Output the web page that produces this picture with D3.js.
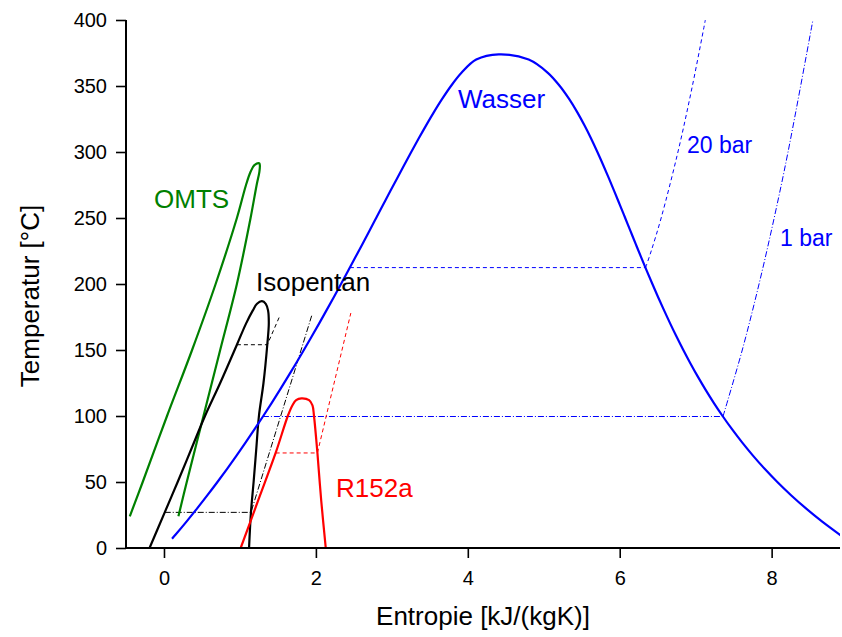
<!DOCTYPE html>
<html>
<head>
<meta charset="utf-8">
<script src="https://cdn.jsdelivr.net/npm/d3@7"></script>
<style>
  body { margin: 0; background: #fff; }
  svg { font-family: Arial, "Liberation Sans", sans-serif; }
</style>
</head>
<body>
<div class="main-container"></div>
<script>
// Wasser: Sättigungslinie (T in °C, s in kJ/(kgK))
const wasserT  = [7, 10, 20, 30, 40, 50, 60, 70, 80, 90, 100, 110, 120, 130, 140, 150, 160, 170, 180, 190, 200,
                  210, 220, 230, 240, 250, 260, 270, 280, 290, 300, 310, 320, 330, 340, 350, 360, 370, 373.95];
const wasserSL = [0.1060, 0.1511, 0.2965, 0.4368, 0.5724, 0.7038, 0.8313, 0.9551, 1.0756, 1.1929, 1.3072,
                  1.4188, 1.5279, 1.6346, 1.7392, 1.8418, 1.9426, 2.0417, 2.1392, 2.2355, 2.3305, 2.4245, 2.5177,
                  2.6101, 2.7020, 2.7935, 2.8849, 2.9765, 3.0685, 3.1612, 3.2552, 3.3510, 3.4494, 3.5518, 3.6601,
                  3.7784, 3.9167, 4.1112, 4.4070];
const wasserSV = [8.9697, 8.8998, 8.6660, 8.4520, 8.2555, 8.0748, 7.9081, 7.7540, 7.6111, 7.4781, 7.3541,
                  7.2381, 7.1291, 7.0264, 6.9293, 6.8371, 6.7491, 6.6650, 6.5840, 6.5059, 6.4302, 6.3563, 6.2840,
                  6.2128, 6.1423, 6.0721, 6.0016, 5.9304, 5.8579, 5.7834, 5.7059, 5.6244, 5.5372, 5.4422, 5.3356,
                  5.2110, 5.0536, 4.8012, 4.4070];
// Wasser Isobaren
const bar20T = [212.42, 212.42, 225, 250, 300, 350, 400];
const bar20S = [2.4474, 6.3409, 6.4147, 6.5453, 6.7664, 6.9563, 7.1271];
const bar1T  = [99.61, 99.61, 150, 200, 250, 300, 400];
const bar1S  = [1.3026, 7.3594, 7.6134, 7.8343, 8.0333, 8.2158, 8.5435];

// Isopentan
const isoT  = [0, 27, 50, 75, 100, 125, 154, 170, 180, 185, 187];
const isoSL = [-0.19, 0.01, 0.18, 0.36, 0.54, 0.74, 0.96, 1.08, 1.17, 1.225, 1.29];
const isoSV = [1.12, 1.145, 1.18, 1.215, 1.25, 1.31, 1.36, 1.38, 1.37, 1.34, 1.29];
const isoHdT = [154, 154, 176.5];
const isoHdS = [0.96, 1.36, 1.53];
const isoNdT = [27, 27, 177];
const isoNdS = [0.01, 1.145, 1.95];

// R152a
const r152T  = [0, 36, 72, 100, 108, 112, 113.3];
const r152SL = [1.01, 1.24, 1.47, 1.63, 1.69, 1.74, 1.81];
const r152SV = [2.13, 2.07, 2.02, 1.975, 1.955, 1.91, 1.81];
const r152HdT = [72, 72, 178];
const r152HdS = [1.47, 2.02, 2.46];

// OMTS
const omtsT  = [24, 50, 100, 150, 200, 250, 275, 285, 290, 291.4];
const omtsSL = [-0.45, -0.28, 0.04, 0.37, 0.68, 0.96, 1.08, 1.14, 1.19, 1.254];
const omtsSV = [0.19, 0.30, 0.52, 0.74, 0.96, 1.14, 1.22, 1.256, 1.262, 1.254];

const xTicks = [0, 2, 4, 6, 8];
const xMinor = [-0.5, 1, 3, 5, 7];
const yTicks = [0, 50, 100, 150, 200, 250, 300, 350, 400];
const yMinor = [25, 75, 125, 175, 225, 275, 325, 375];

const width = 842;
const height = 637;

const x = d3.scaleLinear().domain([-0.5, 8.9]).range([126, 840]);
const y = d3.scaleLinear().domain([0, 400]).range([548, 20]);

const svg = d3.select(".main-container")
    .append("svg")
    .attr("width", width)
    .attr("height", height);

svg.append("clipPath").attr("id", "plot")
    .append("rect")
    .attr("x", 126).attr("y", 18)
    .attr("width", 714).attr("height", 530);

const line = d3.line()
    .x(d => x(d[0]))
    .y(d => y(d[1]))
    .curve(d3.curveCatmullRom.alpha(0.5));
const straight = d3.line()
    .x(d => x(d[0]))
    .y(d => y(d[1]));

// dome: liquid up, vapor back down
const dome = (T, sL, sV) => {
    const up = T.map((t, i) => [sL[i], t]);
    const down = T.map((t, i) => [sV[i], t]).reverse().slice(1);
    return up.concat(down);
};
const pts = (S, T) => S.map((s, i) => [s, T[i]]);

const g = svg.append("g").attr("clip-path", "url(#plot)");

// isobars
const dashed = "4,3";
const dashdot = "6,2,1,2";
g.append("path").attr("d", straight(pts(bar20S, bar20T).slice(0, 2)))
    .attr("fill", "none").attr("stroke", "#0000ff").attr("stroke-width", 1).attr("stroke-dasharray", dashed);
g.append("path").attr("d", line(pts(bar20S, bar20T).slice(1)))
    .attr("fill", "none").attr("stroke", "#0000ff").attr("stroke-width", 1).attr("stroke-dasharray", dashed);
g.append("path").attr("d", straight(pts(bar1S, bar1T).slice(0, 2)))
    .attr("fill", "none").attr("stroke", "#0000ff").attr("stroke-width", 1).attr("stroke-dasharray", dashdot);
g.append("path").attr("d", line(pts(bar1S, bar1T).slice(1)))
    .attr("fill", "none").attr("stroke", "#0000ff").attr("stroke-width", 1).attr("stroke-dasharray", dashdot);

g.append("path").attr("d", straight(pts(isoHdS, isoHdT)))
    .attr("fill", "none").attr("stroke", "#000").attr("stroke-width", 1).attr("stroke-dasharray", dashed);
g.append("path").attr("d", straight(pts(isoNdS, isoNdT)))
    .attr("fill", "none").attr("stroke", "#000").attr("stroke-width", 1).attr("stroke-dasharray", dashdot);
g.append("path").attr("d", straight(pts(r152HdS, r152HdT)))
    .attr("fill", "none").attr("stroke", "#ff0000").attr("stroke-width", 1).attr("stroke-dasharray", dashed);

// saturation curves
const curves = [
    { T: omtsT, sL: omtsSL, sV: omtsSV, color: "#008000" },
    { T: isoT, sL: isoSL, sV: isoSV, color: "#000000" },
    { T: wasserT, sL: wasserSL, sV: wasserSV, color: "#0000ff" },
    { T: r152T, sL: r152SL, sV: r152SV, color: "#ff0000" }
];
g.selectAll("path.dome")
    .data(curves)
    .enter()
    .append("path")
    .attr("class", "dome")
    .attr("d", d => line(dome(d.T, d.sL, d.sV)))
    .attr("fill", "none")
    .attr("stroke", d => d.color)
    .attr("stroke-width", 2.2)
    .attr("stroke-linejoin", "round");

// axes
const xAxis = svg.append("g").attr("transform", "translate(0,548)");
xAxis.call(d3.axisBottom(x).tickValues(xMinor).tickSize(5).tickFormat(""));
xAxis.call(d3.axisBottom(x).tickValues(xTicks).tickSize(10).tickPadding(13));
const yAxis = svg.append("g").attr("transform", "translate(126,0)");
yAxis.call(d3.axisLeft(y).tickValues(yMinor).tickSize(6).tickFormat(""));
yAxis.call(d3.axisLeft(y).tickValues(yTicks).tickSize(10).tickPadding(9));

svg.selectAll(".domain").attr("stroke", "#000").attr("stroke-width", 2);
svg.selectAll(".tick line").attr("stroke", "#000").attr("stroke-width", 1.6);
svg.selectAll(".tick text").attr("font-size", 20).attr("font-family", "Arial, 'Liberation Sans'").attr("fill", "#000");
// flat axis lines without outer ticks
xAxis.selectAll(".domain").attr("d", "M126,0H840");
yAxis.selectAll(".domain").attr("d", "M0,548V20");

svg.append("text")
    .attr("x", 483).attr("y", 625)
    .attr("text-anchor", "middle")
    .attr("font-size", 26)
    .text("Entropie [kJ/(kgK)]");
svg.append("text")
    .attr("transform", "translate(39,296) rotate(-90)")
    .attr("text-anchor", "middle")
    .attr("font-size", 26)
    .text("Temperatur [°C]");

// labels
const labels = [
    { text: "Wasser", x: 458, y: 108, size: 26, color: "#0000ff" },
    { text: "OMTS", x: 154, y: 208, size: 26, color: "#008000" },
    { text: "Isopentan", x: 256, y: 291, size: 26, color: "#000000" },
    { text: "R152a", x: 336, y: 497, size: 26, color: "#ff0000" },
    { text: "20 bar", x: 687, y: 153, size: 23, color: "#0000ff" },
    { text: "1 bar", x: 780, y: 246, size: 23, color: "#0000ff" }
];
svg.selectAll("text.label")
    .data(labels)
    .enter()
    .append("text")
    .attr("class", "label")
    .attr("x", d => d.x)
    .attr("y", d => d.y)
    .attr("font-size", d => d.size)
    .attr("fill", d => d.color)
    .text(d => d.text);
</script>
</body>
</html>
